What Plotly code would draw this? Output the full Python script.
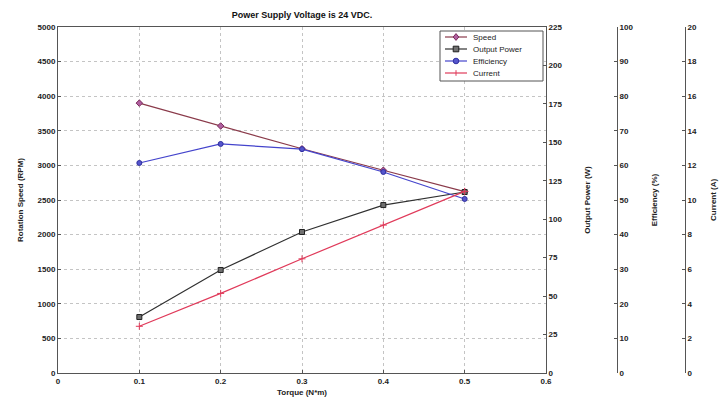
import plotly.graph_objects as go

torque = [0.1, 0.2, 0.3, 0.4, 0.5]
speed_rpm = [3900, 3570, 3240, 2930, 2620]
output_power_w = [36.4, 67, 91.7, 109.2, 117.7]
efficiency_pct = [60.7, 66.2, 64.7, 58.1, 50.3]
current_a = [2.7, 4.6, 6.6, 8.55, 10.5]

series_names = ["Speed", "Output Power", "Efficiency", "Current"]

x_ticks = [0, 0.1, 0.2, 0.3, 0.4, 0.5, 0.6]
speed_ticks = list(range(0, 5001, 500))
power_ticks = list(range(0, 226, 25))
eff_ticks = list(range(0, 101, 10))
cur_ticks = list(range(0, 21, 2))

FONT = "Liberation Sans"
W, H = 720, 403
ML, MR, MT, MB = 58, 0, 27, 30
pw = W - ML - MR
ph = H - MT - MB


def px_x(p):
    return (p - ML) / pw


def px_y(p):
    return (H - MB - p) / ph


x_right = px_x(546)
eff_pos = px_x(617)
cur_pos = px_x(685)

colors_line = ["#8a3a4a", "#303030", "#4444cc", "#e03a5a"]
colors_mark = ["#b060a0", "#707070", "#5555cc", "#e03a5a"]
colors_edge = ["#7a2a5a", "#202020", "#3030a0", "#e03a5a"]
symbols = ["diamond", "square", "circle", "cross-thin"]
axes = ["y", "y2", "y3", "y4"]
values = [speed_rpm, output_power_w, efficiency_pct, current_a]

fig = go.Figure()
for name, vals, lc, mc, ec, sym, ax in zip(series_names, values, colors_line, colors_mark,
                                           colors_edge, symbols, axes):
    fig.add_trace(go.Scatter(x=torque, y=vals, name=name, mode="lines+markers",
                             line=dict(color=lc, width=1.2),
                             marker=dict(symbol=sym, size=5,
                                         color=mc, line=dict(color=ec, width=1)),
                             yaxis=ax, showlegend=False))

tickfont = dict(family=FONT, size=8, color="#222", weight="bold")
titlefont = dict(family=FONT, size=8, color="#222", weight="bold")
grid = dict(showgrid=True, gridcolor="#c4c4c4", griddash="dot", gridwidth=1)

# custom compact legend (MATLAB style)
shapes = [dict(type="rect", xref="paper", yref="paper", x0=px_x(440), x1=px_x(543),
               y0=px_y(81), y1=px_y(31), line=dict(color="#555", width=1),
               fillcolor="white", layer="above")]
annotations = []
entry_y = [37, 49, 61, 73]
for name, ey, lc, mc, ec, sym in zip(series_names, entry_y, colors_line, colors_mark,
                                     colors_edge, symbols):
    shapes.append(dict(type="line", xref="paper", yref="paper", x0=px_x(445), x1=px_x(467),
                       y0=px_y(ey), y1=px_y(ey), line=dict(color=lc, width=1.2),
                       layer="above"))
    cx, r = 456, 2.8
    if sym == "diamond":
        path = (f"M {px_x(cx)} {px_y(ey - r - 0.6)} L {px_x(cx + r)} {px_y(ey)} "
                f"L {px_x(cx)} {px_y(ey + r + 0.6)} L {px_x(cx - r)} {px_y(ey)} Z")
        shapes.append(dict(type="path", xref="paper", yref="paper", path=path,
                           fillcolor=mc, line=dict(color=ec, width=1), layer="above"))
    elif sym == "square":
        shapes.append(dict(type="rect", xref="paper", yref="paper", x0=px_x(cx - r),
                           x1=px_x(cx + r), y0=px_y(ey + r), y1=px_y(ey - r),
                           fillcolor=mc, line=dict(color=ec, width=1), layer="above"))
    elif sym == "circle":
        shapes.append(dict(type="circle", xref="paper", yref="paper", x0=px_x(cx - r),
                           x1=px_x(cx + r), y0=px_y(ey + r), y1=px_y(ey - r),
                           fillcolor=mc, line=dict(color=ec, width=1), layer="above"))
    else:
        shapes.append(dict(type="line", xref="paper", yref="paper", x0=px_x(cx),
                           x1=px_x(cx), y0=px_y(ey + r), y1=px_y(ey - r),
                           line=dict(color=ec, width=1), layer="above"))
    annotations.append(dict(text=name, xref="paper", yref="paper", x=px_x(471),
                            y=px_y(ey), xanchor="left", yanchor="middle", showarrow=False,
                            font=dict(family=FONT, size=8, color="#222")))

annotations.append(dict(text="Current (A)", xref="paper", yref="paper", x=px_x(713),
                        y=0.5, xanchor="center", yanchor="middle", textangle=-90,
                        showarrow=False, font=titlefont))

fig.update_layout(
    width=W, height=H,
    margin=dict(l=ML, r=MR, t=MT, b=MB, autoexpand=False),
    paper_bgcolor="white", plot_bgcolor="white",
    title=dict(text="Power Supply Voltage is 24 VDC.", x=px_x(302), xref="paper",
               xanchor="center", y=1 - 15 / H, yanchor="middle",
               font=dict(family=FONT, size=9, color="#111", weight="bold")),
    xaxis=dict(domain=[0, x_right], range=[0, 0.6], tickvals=x_ticks,
               ticktext=["0", "0.1", "0.2", "0.3", "0.4", "0.5", "0.6"], **grid,
               showline=True, linecolor="#555", linewidth=1, mirror=True,
               ticks="inside", ticklen=3, tickcolor="#555",
               tickfont=tickfont, zeroline=False, automargin=False,
               title=dict(text="Torque (N*m)", font=titlefont, standoff=4)),
    yaxis=dict(range=[0, 5000], tickvals=speed_ticks, **grid,
               showline=True, linecolor="#555", linewidth=1,
               ticks="inside", ticklen=3, tickcolor="#555",
               tickfont=tickfont, zeroline=False, automargin=False,
               title=dict(text="Rotation Speed (RPM)", font=titlefont, standoff=12)),
    yaxis2=dict(range=[0, 225], tickvals=power_ticks, overlaying="y", side="right",
                anchor="x", showgrid=False, showline=True, linecolor="#555", linewidth=1,
                ticks="inside", ticklen=3, tickcolor="#555", tickfont=tickfont, zeroline=False,
                automargin=False,
                title=dict(text="Output Power (W)", font=titlefont, standoff=22)),
    yaxis3=dict(range=[0, 100], tickvals=eff_ticks, overlaying="y", side="right",
                anchor="free", position=eff_pos, showgrid=False, showline=True,
                linecolor="#555", linewidth=1, ticks="inside", ticklen=3, tickcolor="#555",
                tickfont=tickfont, zeroline=False, automargin=False,
                title=dict(text="Efficiency (%)", font=titlefont, standoff=18)),
    yaxis4=dict(range=[0, 20], tickvals=cur_ticks, overlaying="y", side="right",
                anchor="free", position=cur_pos, showgrid=False, showline=True,
                linecolor="#555", linewidth=1, ticks="inside", ticklen=3, tickcolor="#555",
                tickfont=tickfont, zeroline=False, automargin=False),
    shapes=shapes,
    annotations=annotations,
    showlegend=False,
)

fig.write_html("out.html", config={"displayModeBar": False},
               post_script="document.body.style.margin='0';")
